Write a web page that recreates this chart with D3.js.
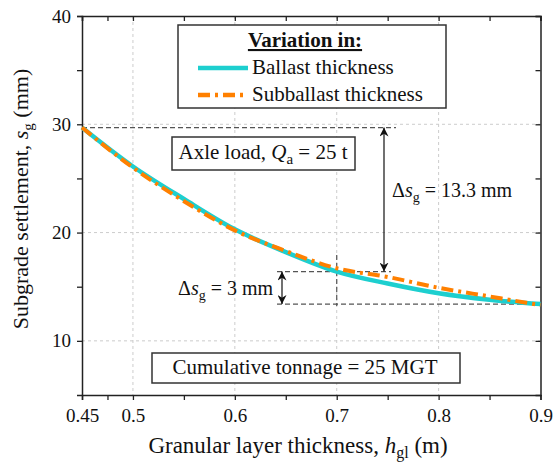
<!DOCTYPE html>
<html>
<head>
<meta charset="utf-8">
<script src="https://cdn.jsdelivr.net/npm/d3@7"></script>
<style>
  body { margin: 0; background: #fff; }
</style>
</head>
<body>
<svg id="chart" width="557" height="468"></svg>
<script>
// data
const thickness = [0.45, 0.5, 0.55, 0.6, 0.65, 0.7, 0.75, 0.8, 0.85, 0.9];
const ballastSettle = [29.7, 26.1, 23.1, 20.3, 18.2, 16.4, 15.3, 14.4, 13.8, 13.4];
const subballastSettle = [29.7, 26.0, 22.9, 20.2, 18.3, 16.7, 15.9, 14.9, 14.1, 13.3];
const xTicks = [0.45, 0.475, 0.5, 0.55, 0.6, 0.65, 0.7, 0.75, 0.8, 0.85, 0.9];
const xLabels = [0.45, 0.5, 0.6, 0.7, 0.8, 0.9];
const yTicks = [10, 15, 20, 25, 30, 35, 40];
const yLabels = [10, 20, 30, 40];
const seriesNames = ["Ballast thickness", "Subballast thickness"];
const startVal = 29.7, midVal = 16.4, endVal = 13.4, midX = 0.7;

const FONT = "Liberation Serif";
const margin = {left: 82, top: 16, right: 16, bottom: 73};
const W = 557, H = 468;
const svg = d3.select("#chart");

// helper: serif text element
function txt(parent, px, tx, ty) {
  return parent.append("text").attr("x", tx).attr("y", ty)
    .attr("font-family", FONT).style("font-family", FONT)
    .attr("font-size", px).attr("fill", "#111");
}

const x = d3.scaleLinear().domain([0.45, 0.9]).range([margin.left, W - margin.right - 0.5]);
const y = d3.scaleLinear().domain([5, 40]).range([H - margin.bottom, margin.top]);

// grid
const grid = svg.append("g").attr("stroke", "#ccc").attr("stroke-dasharray", "3,3").attr("stroke-width", 1);
[0.5, 0.6, 0.7, 0.8].forEach(v => grid.append("line").attr("x1", x(v)).attr("x2", x(v)).attr("y1", y(40)).attr("y2", y(5)));
[10, 20, 30].forEach(v => grid.append("line").attr("x1", x(0.45)).attr("x2", x(0.9)).attr("y1", y(v)).attr("y2", y(v)));

// axes
const fmt = d => xLabels.includes(d) ? String(d) : "";
const gBottom = svg.append("g").attr("transform", `translate(0,${y(5)})`)
  .call(d3.axisBottom(x).tickValues(xTicks).tickFormat(fmt).tickSizeOuter(0).tickSize(5).tickPadding(9));
const gTop = svg.append("g").attr("transform", `translate(0,${y(40)})`)
  .call(d3.axisTop(x).tickValues(xTicks).tickFormat("").tickSizeOuter(0).tickSize(-5));
const gLeft = svg.append("g").attr("transform", `translate(${x(0.45)},0)`)
  .call(d3.axisLeft(y).tickValues(yTicks).tickFormat(d => yLabels.includes(d) ? d : "").tickSizeOuter(0).tickSize(5).tickPadding(6));
const gRight = svg.append("g").attr("transform", `translate(${x(0.9)},0)`)
  .call(d3.axisRight(y).tickValues(yTicks).tickFormat("").tickSizeOuter(0).tickSize(-5));
[gBottom, gTop, gLeft, gRight].forEach(g => {
  g.attr("font-family", FONT).attr("font-size", 19);
  g.selectAll(".domain").attr("stroke", "#222").attr("stroke-width", 1.5);
  g.selectAll(".tick line").attr("stroke", "#222").attr("stroke-width", 1.3);
  g.selectAll("text").attr("font-family", FONT).style("font-family", FONT).attr("fill", "#111");
});

// dashed guide lines
const guide = svg.append("g").attr("stroke", "#555").attr("stroke-width", 1.2).attr("stroke-dasharray", "5,3").attr("fill", "none");
guide.append("line").attr("x1", x(0.45)).attr("x2", 396).attr("y1", y(startVal)).attr("y2", y(startVal));
guide.append("line").attr("x1", 277).attr("x2", 391).attr("y1", y(midVal)).attr("y2", y(midVal));
guide.append("line").attr("x1", 277).attr("x2", x(0.9)).attr("y1", y(endVal)).attr("y2", y(endVal));
guide.append("line").attr("x1", x(midX)).attr("x2", x(midX)).attr("y1", 255).attr("y2", 306);

// curves
const line = d3.line().x((d, i) => x(thickness[i])).y(d => y(d)).curve(d3.curveMonotoneX);
svg.append("path").attr("d", line(ballastSettle)).attr("fill", "none")
  .attr("stroke", "#1DCFCF").attr("stroke-width", 4.5);
svg.append("path").attr("d", line(subballastSettle)).attr("fill", "none")
  .attr("stroke", "#FF8000").attr("stroke-width", 4).attr("stroke-dasharray", "12,5,3,5");

// arrows
const defs = svg.append("defs");
defs.append("marker").attr("id", "ah").attr("viewBox", "0 0 10 10").attr("refX", 10).attr("refY", 5)
  .attr("markerWidth", 9).attr("markerHeight", 9).attr("markerUnits", "userSpaceOnUse").attr("orient", "auto-start-reverse")
  .append("path").attr("d", "M0,0 L10,5 L0,10 L3,5 Z").attr("fill", "#111");
svg.append("line").attr("x1", 384).attr("x2", 384).attr("y1", y(startVal)).attr("y2", y(midVal))
  .attr("stroke", "#111").attr("stroke-width", 1.2).attr("marker-start", "url(#ah)").attr("marker-end", "url(#ah)");
svg.append("line").attr("x1", 282).attr("x2", 282).attr("y1", y(midVal)).attr("y2", y(endVal))
  .attr("stroke", "#111").attr("stroke-width", 1.2).attr("marker-start", "url(#ah)").attr("marker-end", "url(#ah)");

function deltaLabel(tx, ty, rest) {
  const t = txt(svg, 20, tx, ty);
  t.append("tspan").text("Δ");
  t.append("tspan").attr("font-style", "italic").text("s");
  t.append("tspan").attr("dy", 5).attr("font-size", 14).text("g");
  t.append("tspan").attr("dy", -5).text(rest);
}
deltaLabel(392, 197, " = 13.3 mm");
deltaLabel(178, 295, " = 3 mm");

// axle load box
svg.append("rect").attr("x", 172).attr("y", 137).attr("width", 183).attr("height", 33)
  .attr("fill", "#fff").attr("stroke", "#333").attr("stroke-width", 1.5);
const ax = txt(svg, 21, 263, 159).attr("text-anchor", "middle");
ax.append("tspan").text("Axle load, ");
ax.append("tspan").attr("font-style", "italic").text("Q");
ax.append("tspan").attr("dy", 5).attr("font-size", 15).text("a");
ax.append("tspan").attr("dy", -5).text(" = 25 t");

// tonnage box
svg.append("rect").attr("x", 152).attr("y", 353).attr("width", 308).attr("height", 30)
  .attr("fill", "#fff").attr("stroke", "#333").attr("stroke-width", 1.5);
txt(svg, 21, 305, 374).attr("text-anchor", "middle").text("Cumulative tonnage = 25 MGT");

// legend
const lg = svg.append("g");
lg.append("rect").attr("x", 178).attr("y", 25).attr("width", 268).attr("height", 83)
  .attr("fill", "#fff").attr("stroke", "#333").attr("stroke-width", 1.5);
txt(lg, 21, 305, 47).attr("text-anchor", "middle")
  .attr("font-weight", "bold").attr("text-decoration", "underline").text("Variation in:");
const lcol = ["#1DCFCF", "#FF8000"];
const ldash = [null, "12,5,3,5"];
seriesNames.forEach((n, i) => {
  const yy = 68 + i * 27;
  lg.append("line").attr("x1", 198).attr("x2", 248).attr("y1", yy).attr("y2", yy)
    .attr("stroke", lcol[i]).attr("stroke-width", 4.5).attr("stroke-dasharray", ldash[i]);
  txt(lg, 21, 252, yy + 6).text(n);
});

// axis titles
const xt = txt(svg, 23, 298, 453).attr("text-anchor", "middle");
xt.append("tspan").text("Granular layer thickness, ");
xt.append("tspan").attr("font-style", "italic").text("h");
xt.append("tspan").attr("dy", 5).attr("font-size", 16).text("gl");
xt.append("tspan").attr("dy", -5).text(" (m)");

const yt = txt(svg, 22, 0, 0).attr("transform", `translate(28,199) rotate(-90)`).attr("text-anchor", "middle");
yt.append("tspan").text("Subgrade settlement, ");
yt.append("tspan").attr("font-style", "italic").text("s");
yt.append("tspan").attr("dy", 5).attr("font-size", 15).text("g");
yt.append("tspan").attr("dy", -5).text(" (mm)");
</script>
</body>
</html>
